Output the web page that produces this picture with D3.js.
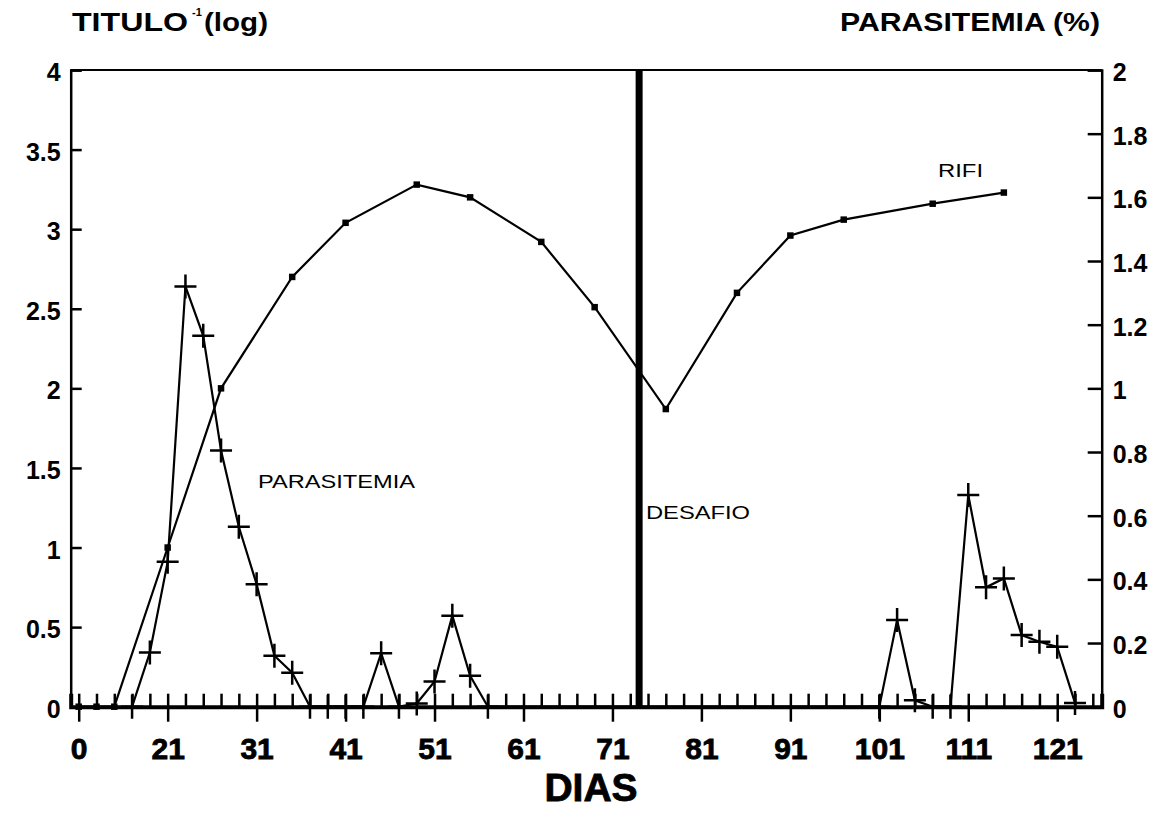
<!DOCTYPE html>
<html>
<head>
<meta charset="utf-8">
<script src="https://cdn.jsdelivr.net/npm/d3@7"></script>
<style>
  html, body { margin: 0; padding: 0; background: #fff; }
  svg { display: block; }
  text { font-family: "Liberation Sans", Arial, Helvetica, sans-serif; fill: #000; }
</style>
</head>
<body>
<svg id="chart" width="1164" height="814"></svg>
<script>
// ---------------- DATA ----------------
// x positions are in axis units; the first labelled tick ("0") sits at unit 11
const xTickValues = [11, 21, 31, 41, 51, 61, 71, 81, 91, 101, 111, 121];
const xTickLabels = ["0", "21", "31", "41", "51", "61", "71", "81", "91", "101", "111", "121"];
const xMinorTicks = d3.range(11, 126, 2);

const leftTicks = [0, 0.5, 1, 1.5, 2, 2.5, 3, 3.5, 4];
const leftTickLabels = ["0", "0.5", "1", "1.5", "2", "2.5", "3", "3.5", "4"];
const rightTicks = [0, 0.2, 0.4, 0.6, 0.8, 1, 1.2, 1.4, 1.6, 1.8, 2];
const rightTickLabels = ["0", "0.2", "0.4", "0.6", "0.8", "1", "1.2", "1.4", "1.6", "1.8", "2"];

// RIFI titre (log), left axis
const rifiDays   = [11, 13, 15, 21, 27, 35, 41, 49, 55, 63, 69, 77, 85, 91, 97, 107, 115];
const rifiValues = [0, 0, 0, 1.0, 2.0, 2.7, 3.04, 3.28, 3.2, 2.92, 2.51, 1.87, 2.6, 2.96, 3.06, 3.16, 3.23];

// Parasitemia (%), right axis
const paraDays   = [17, 19, 21, 23, 25, 27, 29, 31, 33, 35, 37, 39, 41, 43, 45, 47, 49, 51, 53, 55, 57,
                    101, 103, 105, 107, 109, 111, 113, 115, 117, 119, 121, 123];
const paraValues = [0, 0.17, 0.455, 1.32, 1.165, 0.805, 0.565, 0.385, 0.16, 0.107, 0, 0, 0, 0, 0.168, 0, 0.01, 0.079, 0.286, 0.097, 0,
                    0, 0.272, 0.02, 0, 0, 0.665, 0.375, 0.403, 0.225, 0.204, 0.188, 0.012];

const challengeDay = 74;

// ---------------- LAYOUT ----------------
const svg = d3.select("#chart");
const W = 1164, H = 814;
const margin = { left: 70.7, top: 70, right: 62.3, bottom: 107.3 };
const x = d3.scaleLinear().domain([10.1, 126]).range([margin.left, W - margin.right]);
const yL = d3.scaleLinear().domain([0, 4]).range([H - margin.bottom, margin.top]);
const yR = d3.scaleLinear().domain([0, 2]).range([H - margin.bottom, margin.top]);
const x0 = margin.left, x1 = W - margin.right, yTop = margin.top, yBot = H - margin.bottom;
const heavy = "'DejaVu Sans', 'Liberation Sans', Arial, sans-serif";

// frame top line
svg.append("line").attr("x1", x0).attr("x2", x1).attr("y1", yTop).attr("y2", yTop)
  .attr("stroke", "#000").attr("stroke-width", 2);

// left axis
const gL = svg.append("g").attr("transform", `translate(${x0},0)`)
  .call(d3.axisLeft(yL).tickValues(leftTicks).tickSize(-11).tickPadding(14)
    .tickFormat((d, i) => leftTickLabels[i]));
gL.select(".domain").attr("stroke-width", 2.5);
gL.selectAll(".tick line").attr("stroke-width", 2.5);
gL.selectAll(".tick text").attr("font-size", 25).attr("font-weight", "bold")
  .attr("font-family", heavy).attr("dy", "0.42em").attr("x", -10);

// right axis
const gR = svg.append("g").attr("transform", `translate(${x1},0)`)
  .call(d3.axisRight(yR).tickValues(rightTicks).tickSize(-14).tickPadding(12)
    .tickFormat((d, i) => rightTickLabels[i]));
gR.select(".domain").attr("stroke-width", 2.5);
gR.selectAll(".tick line").attr("stroke-width", 2.5);
gR.selectAll(".tick text").attr("font-size", 25).attr("font-weight", "bold")
  .attr("font-family", heavy).attr("dy", "0.42em").attr("x", 11);

// bottom axis: minor ticks pointing up
const gBm = svg.append("g").attr("transform", `translate(0,${yBot})`)
  .call(d3.axisBottom(x).tickValues(xMinorTicks).tickSize(-13).tickFormat(""));
gBm.select(".domain").attr("stroke-width", 4);
gBm.selectAll(".tick line").attr("stroke-width", 2.5);

// bottom axis: major ticks crossing down with labels
const gB = svg.append("g").attr("transform", `translate(0,${yBot})`)
  .call(d3.axisBottom(x).tickValues(xTickValues).tickSize(15).tickPadding(16)
    .tickFormat((d, i) => xTickLabels[i]));
gB.select(".domain").remove();
gB.selectAll(".tick line").attr("stroke-width", 2.5);
gB.selectAll(".tick text").attr("font-size", 30).attr("font-weight", "bold")
  .attr("stroke", "#000").attr("stroke-width", 0.8).attr("dy", "0.72em");

// challenge bar
svg.append("line").attr("x1", x(challengeDay)).attr("x2", x(challengeDay))
  .attr("y1", yTop).attr("y2", yBot).attr("stroke", "#000").attr("stroke-width", 7);

// RIFI line
const rifi = rifiDays.map((d, i) => ({ d, v: rifiValues[i] }));
svg.append("path").datum(rifi)
  .attr("fill", "none").attr("stroke", "#000").attr("stroke-width", 2.2)
  .attr("d", d3.line().x(p => x(p.d)).y(p => yL(p.v)));
svg.selectAll(".sq").data(rifi).join("path").attr("class", "sq")
  .attr("transform", p => `translate(${x(p.d)},${yL(p.v)})`)
  .attr("d", d3.symbol().type(d3.symbolSquare).size(42)).attr("fill", "#000");

// Parasitemia line
const para = paraDays.map((d, i) => ({ d, v: paraValues[i] }));
svg.append("path").datum(para)
  .attr("fill", "none").attr("stroke", "#000").attr("stroke-width", 2.2)
  .attr("d", d3.line().x(p => x(p.d)).y(p => yR(p.v)));
svg.selectAll(".plus").data(para).join("path").attr("class", "plus")
  .attr("transform", p => `translate(${x(p.d)},${yR(p.v)})`)
  .attr("d", "M-11,0H11M0,-12V12").attr("stroke", "#000").attr("stroke-width", 2.5).attr("fill", "none");

// annotations
svg.append("text").attr("x", 258).attr("y", 488).attr("font-size", 18).attr("font-family", heavy)
  .attr("textLength", 157).attr("lengthAdjust", "spacingAndGlyphs").text("PARASITEMIA");
svg.append("text").attr("x", 646).attr("y", 519).attr("font-size", 18).attr("font-family", heavy)
  .attr("textLength", 104).attr("lengthAdjust", "spacingAndGlyphs").text("DESAFIO");
svg.append("text").attr("x", 938).attr("y", 177).attr("font-size", 18).attr("font-family", heavy)
  .attr("textLength", 45).attr("lengthAdjust", "spacingAndGlyphs").text("RIFI");

// titles
svg.append("text").attr("x", 72).attr("y", 31).attr("font-size", 25).attr("font-weight", "bold")
  .attr("font-family", heavy).attr("textLength", 116).attr("lengthAdjust", "spacingAndGlyphs").text("TITULO");
svg.append("text").attr("x", 192).attr("y", 16).attr("font-size", 11).attr("font-weight", "bold")
  .attr("font-family", heavy).text("-1");
svg.append("text").attr("x", 204).attr("y", 31).attr("font-size", 25).attr("font-weight", "bold")
  .attr("font-family", heavy).attr("textLength", 64).attr("lengthAdjust", "spacingAndGlyphs").text("(log)");

svg.append("text").attr("x", 840).attr("y", 31).attr("font-size", 25).attr("font-weight", "bold")
  .attr("font-family", heavy).attr("textLength", 260).attr("lengthAdjust", "spacingAndGlyphs")
  .text("PARASITEMIA (%)");

// x axis title
svg.append("text").attr("x", 591).attr("y", 801).attr("font-size", 39).attr("font-weight", "bold")
  .attr("stroke", "#000").attr("stroke-width", 0.8)
  .attr("text-anchor", "middle").text("DIAS");
</script>
</body>
</html>
